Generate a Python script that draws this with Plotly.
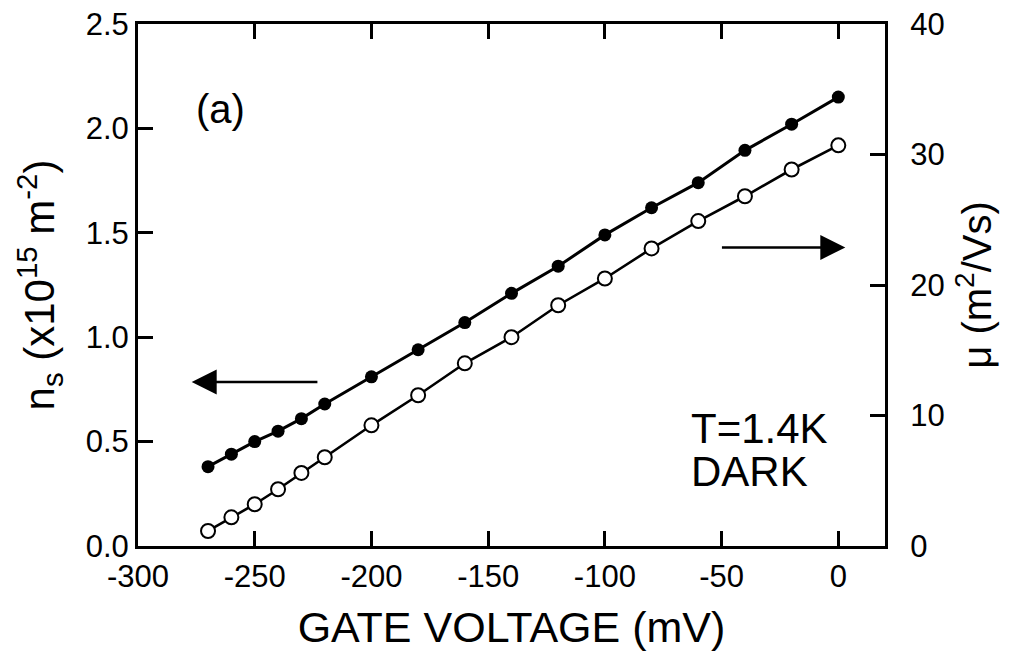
import plotly.graph_objects as go

# Data
gate_voltage = [-270, -260, -250, -240, -230, -220, -200, -180, -160, -140,
                -120, -100, -80, -60, -40, -20, 0]
n_s = [0.38, 0.44, 0.50, 0.55, 0.61, 0.68, 0.81, 0.94, 1.07, 1.21,
       1.34, 1.49, 1.62, 1.74, 1.895, 2.02, 2.15]
mobility = [1.15, 2.2, 3.2, 4.35, 5.6, 6.8, 9.25, 11.55, 14.0, 16.0,
            18.45, 20.5, 22.8, 24.9, 26.8, 28.85, 30.7]

x_ticks = [-300, -250, -200, -150, -100, -50, 0]
x_tick_text = ["-300", "-250", "-200", "-150", "-100", "-50", "0"]
y_ticks = [0.0, 0.5, 1.0, 1.5, 2.0, 2.5]
y2_ticks = [0, 10, 20, 30, 40]

FONT = "Liberation Sans, Arial, Helvetica, sans-serif"

fig = go.Figure()
fig.add_trace(go.Scatter(
    x=gate_voltage, y=n_s, mode="lines+markers",
    line=dict(color="black", width=3),
    marker=dict(symbol="circle", size=13, color="black"),
    yaxis="y", showlegend=False))
fig.add_trace(go.Scatter(
    x=gate_voltage, y=mobility, mode="lines+markers",
    line=dict(color="black", width=2.6),
    marker=dict(symbol="circle", size=14, color="white",
                line=dict(color="black", width=2)),
    yaxis="y2", showlegend=False))

common = dict(ticks="inside", ticklen=15, tickwidth=3, tickcolor="black",
              showline=True, linewidth=3, linecolor="black",
              showgrid=False, zeroline=False, automargin=False)

fig.update_layout(
    width=1026, height=672,
    margin=dict(l=138, r=141, t=24, b=126),
    paper_bgcolor="white", plot_bgcolor="white",
    font=dict(family=FONT, color="black", size=31),
    xaxis=dict(
        range=[-300, 20], tickvals=x_ticks, ticktext=x_tick_text,
        mirror="ticks", tickfont=dict(size=31), ticklabelstandoff=1,
        title=dict(text="GATE VOLTAGE (mV)", font=dict(size=43), standoff=19),
        **common,
    ),
    yaxis=dict(
        range=[0, 2.5], tickvals=y_ticks, tickformat=".1f",
        tickfont=dict(size=31), ticklabelstandoff=0,
        title=dict(text="n<sub>s</sub> (x10<sup>15</sup> m<sup>-2</sup>)",
                   font=dict(size=42), standoff=18),
        **common,
    ),
    yaxis2=dict(
        range=[0, 40], tickvals=y2_ticks, overlaying="y", side="right",
        tickfont=dict(size=31), ticklabelstandoff=16,
        title=dict(text="\u03bc (m<sup>2</sup>/Vs)", font=dict(size=40),
                   standoff=20),
        **common,
    ),
)

# Text labels
fig.add_annotation(x=-276, y=2.095, xref="x", yref="y", text="(a)",
                   showarrow=False, xanchor="left", yanchor="middle",
                   font=dict(size=40))
fig.add_annotation(x=-64, y=0.565, xref="x", yref="y", text="T=1.4K",
                   showarrow=False, xanchor="left", yanchor="middle",
                   font=dict(size=42))
fig.add_annotation(x=-64, y=0.355, xref="x", yref="y", text="DARK",
                   showarrow=False, xanchor="left", yanchor="middle",
                   font=dict(size=42))

# Arrows pointing to the relevant axes
fig.add_annotation(x=-277, y=0.785, ax=-222.5, ay=0.785,
                   xref="x", yref="y", axref="x", ayref="y", text="",
                   showarrow=True, arrowhead=2, arrowsize=2.0,
                   arrowwidth=2.5, arrowcolor="black", standoff=0)
fig.add_annotation(x=3, y=1.43, ax=-50.5, ay=1.43,
                   xref="x", yref="y", axref="x", ayref="y", text="",
                   showarrow=True, arrowhead=2, arrowsize=2.0,
                   arrowwidth=2.5, arrowcolor="black", standoff=0)

# Remove the browser's default body margin so the figure sits at the page origin
fig.write_html("out.html",
               config={"displayModeBar": False},
               post_script="document.body.style.margin='0';"
                           "document.body.style.padding='0';")
